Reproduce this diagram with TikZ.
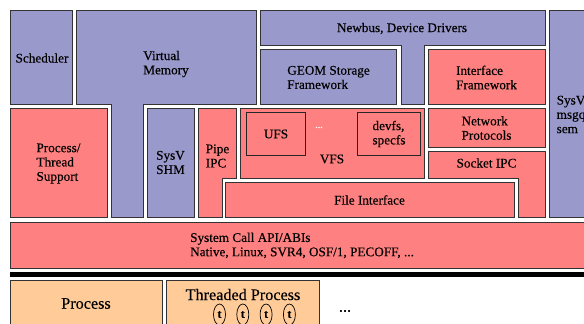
\documentclass[tikz,border=0pt]{standalone}
\usepackage{fontspec}
\setmainfont{Liberation Serif}[FakeBold=0.3]
\definecolor{kblue}{HTML}{9999CC}
\definecolor{kred}{HTML}{FF8080}
\definecolor{korange}{HTML}{FFCC99}
\definecolor{kline}{HTML}{333333}
\tikzset{
  kbox/.style={draw=kline, line width=1pt},
  bluebox/.style={kbox, fill=kblue},
  redbox/.style={kbox, fill=kred},
  orbox/.style={kbox, fill=korange},
  inbox/.style={draw=black!85, line width=0.8pt},
  lbl/.style={inner sep=0pt, align=left, font=\fontsize{13.2}{14.3}\selectfont},
  biglbl/.style={inner sep=0pt, font=\fontsize{16.2}{18}\selectfont},
  thr/.style={draw=black, line width=0.7pt, ellipse, minimum width=12pt, minimum height=21pt, inner sep=0pt, font=\fontsize{12}{12}\selectfont\bfseries}
}
\usetikzlibrary{shapes.geometric}
\begin{document}
\begin{tikzpicture}[x=1pt,y=-1pt]
\useasboundingbox (0,0) rectangle (584,324);
\clip (0,0) rectangle (584,324);
% upper layer
\draw[bluebox] (10.5,10.5) rectangle (72.5,104);
\draw[bluebox] (76.5,10.5) -- (256.5,10.5) -- (256.5,104) -- (143.5,104) -- (143.5,217) -- (111.5,217) -- (111.5,104) -- (76.5,104) -- cycle;
\draw[bluebox] (260.5,10.5) -- (545.5,10.5) -- (545.5,45.5) -- (424.5,45.5) -- (424.5,104) -- (401,104) -- (401,45.5) -- (260.5,45.5) -- cycle;
\draw[bluebox] (260.5,49.5) rectangle (396.5,104);
\draw[redbox] (428,49.5) rectangle (545.5,104);
\draw[redbox] (428,108.5) rectangle (545.5,147);
\draw[redbox] (428,151) -- (545.5,151) -- (545.5,217) -- (518,217) -- (518,178.5) -- (428,178.5) -- cycle;
\draw[bluebox] (549.5,10.5) rectangle (592,217);
\draw[redbox] (10.5,108.5) rectangle (107.5,217);
\draw[bluebox] (147,108.5) rectangle (194,217);
\draw[redbox] (198,108.5) -- (236.5,108.5) -- (236.5,178.5) -- (222.5,178.5) -- (222.5,217) -- (198,217) -- cycle;
\draw[redbox] (240.5,108.5) rectangle (424.5,178.5);
\draw[inbox, fill=kred] (246.5,112.5) rectangle (305.5,155);
\draw[inbox, fill=kred] (357.5,112.5) rectangle (420.5,155);
\draw[redbox] (225.5,182) rectangle (514,217);
\draw[redbox] (10.5,222) rectangle (592,268);
\fill[black] (10,271.5) rectangle (592,276.5);
\draw[orbox] (10.5,280.5) rectangle (162,335);
\draw[orbox] (166,280.5) rectangle (319,335);
% labels
\node[lbl] (sched) at (42,58) {Scheduler};
\node[lbl] (vm) at (166,64) {Virtual\\Memory};
\node[lbl] (newbus) at (402,28.5) {Newbus, Device Drivers};
\node[lbl] (geom) at (328.5,77.5) {GEOM Storage\\Framework};
\node[lbl] (ifw) at (486.5,77.5) {Interface\\Framework};
\node[lbl] (netp) at (486.5,128) {Network\\Protocols};
\node[lbl] (sock) at (486.5,163) {Socket IPC};
\node[lbl, anchor=west] (msgq) at (556.5,114.5) {SysV\\msgq\\sem};
\node[lbl] (pts) at (58.5,163.5) {Process/\\Thread\\Support};
\node[lbl] (shm) at (170.5,162.5) {SysV\\SHM};
\node[lbl] (pipe) at (217.5,156) {Pipe\\IPC};
\node[lbl] (ufs) at (276,134) {UFS};
\node[lbl] (devfs) at (389,134) {devfs,\\specfs};
\node[lbl, text=white, font=\fontsize{10}{10}\selectfont] (vdots) at (319,127.5) {...};
\node[lbl] (vfs) at (332,159) {VFS};
\node[lbl] (fif) at (369.5,200) {File Interface};
\node[lbl, anchor=west] (sys) at (190,245.5) {System Call API/ABIs\\Native, Linux, SVR4, OSF/1, PECOFF, ...};
\node[biglbl] (proc) at (86,303.5) {Process};
\node[biglbl] (tproc) at (243,294.5) {Threaded Process};
\node[thr] (t1) at (219.5,314.5) {t};
\node[thr] (t2) at (242.8,314.5) {t};
\node[thr] (t3) at (266.1,314.5) {t};
\node[thr] (t4) at (289.4,314.5) {t};
\node[biglbl] (more) at (345,311) {...};
\end{tikzpicture}
\end{document}
